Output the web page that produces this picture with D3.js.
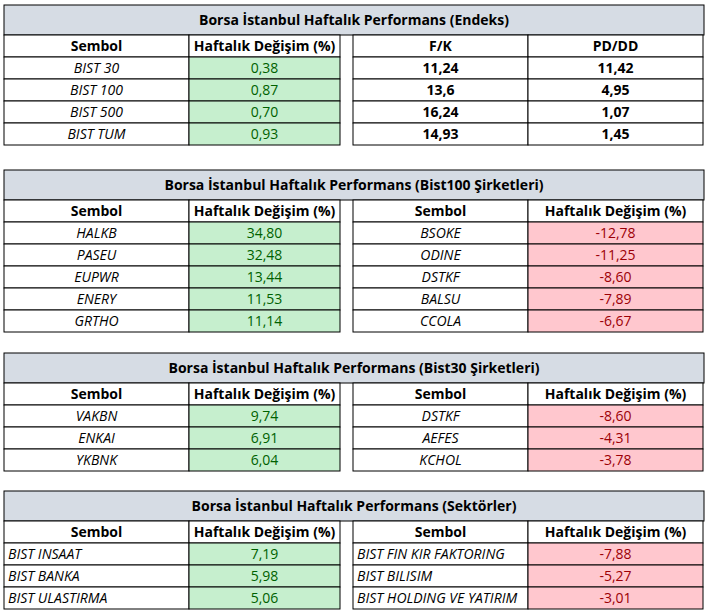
<!DOCTYPE html>
<html><head><meta charset="utf-8">
<script src="https://cdn.jsdelivr.net/npm/d3@7"></script>
<style>body{margin:0;background:#fff}text{font-family:"Open Sans",sans-serif;font-size:14px}</style>
</head><body><svg id="t"></svg>
<script>
const endeksNames = ["BIST 30", "BIST 100", "BIST 500", "BIST TUM"];
const endeksChange = ["0,38", "0,87", "0,70", "0,93"];
const endeksFK = ["11,24", "13,6", "16,24", "14,93"];
const endeksPDDD = ["11,42", "4,95", "1,07", "1,45"];

const b100Up = ["HALKB", "PASEU", "EUPWR", "ENERY", "GRTHO"];
const b100UpVal = ["34,80", "32,48", "13,44", "11,53", "11,14"];
const b100Down = ["BSOKE", "ODINE", "DSTKF", "BALSU", "CCOLA"];
const b100DownVal = ["-12,78", "-11,25", "-8,60", "-7,89", "-6,67"];

const b30Up = ["VAKBN", "ENKAI", "YKBNK"];
const b30UpVal = ["9,74", "6,91", "6,04"];
const b30Down = ["DSTKF", "AEFES", "KCHOL"];
const b30DownVal = ["-8,60", "-4,31", "-3,78"];

const sekUp = ["BIST INSAAT", "BIST BANKA", "BIST ULASTIRMA"];
const sekUpVal = ["7,19", "5,98", "5,06"];
const sekDown = ["BIST FIN KIR FAKTORING", "BIST BILISIM", "BIST HOLDING VE YATIRIM"];
const sekDownVal = ["-7,88", "-5,27", "-3,01"];

const width = 708, height = 613;
const svg = d3.select("#t").attr("width", width).attr("height", height);

const GREEN = {fill: "#c6efce", color: "#006100"};
const RED = {fill: "#ffc7ce", color: "#9c0006"};
const PLAIN = {fill: "#fff", color: "#000"};

const colX = [4, 189, 340, 353, 528, 703];

// draw one table block
function table(top, title, left, right) {
  const n = left.rows.length;
  const rowH = 22, titleH = 30;
  const y = d3.scaleBand().domain(d3.range(n + 1)).range([top + titleH, top + titleH + rowH * (n + 1)]);
  const g = svg.append("g");
  g.append("rect").attr("x", 4).attr("y", top).attr("width", 700).attr("height", titleH)
    .attr("fill", "#d6dce4").attr("stroke", "#000");
  g.append("text").attr("x", 354).attr("y", top + titleH / 2 + 5).attr("text-anchor", "middle")
    .attr("font-weight", "bold").text(title);

  [[left, colX[0], colX[1], colX[2]], [right, colX[3], colX[4], colX[5]]].forEach(([b, x0, x1, x2]) => {
    const cells = [];
    cells.push({y: 0, x0, x1, t: b.head[0], bold: true, s: PLAIN, a: "middle"});
    cells.push({y: 0, x0: x1, x1: x2, t: b.head[1], bold: true, s: PLAIN, a: "middle"});
    b.rows.forEach((r, i) => {
      cells.push({y: i + 1, x0, x1, t: r, italic: b.italic, bold: b.boldA, s: PLAIN, a: b.align || "middle"});
      cells.push({y: i + 1, x0: x1, x1: x2, t: b.vals[i], bold: b.boldB, s: b.style, a: "middle"});
    });
    const c = g.selectAll(null).data(cells).enter().append("g");
    c.append("rect").attr("x", d => d.x0).attr("y", d => y(d.y)).attr("width", d => d.x1 - d.x0)
      .attr("height", y.bandwidth()).attr("fill", d => d.s.fill).attr("stroke", "#000").attr("stroke-width", 1);
    c.append("text")
      .attr("x", d => d.a === "start" ? d.x0 + 4 : (d.x0 + d.x1) / 2)
      .attr("y", d => y(d.y) + y.bandwidth() / 2 + 5)
      .attr("text-anchor", d => d.a)
      .attr("fill", d => d.s.color)
      .attr("font-weight", d => d.bold ? "bold" : "normal")
      .attr("font-style", d => d.italic ? "italic" : "normal")
      .text(d => d.t);
  });
}

const head = ["Sembol", "Haftalık Değişim (%)"];
table(5, "Borsa İstanbul Haftalık Performans (Endeks)",
  {head, rows: endeksNames, vals: endeksChange, style: GREEN, italic: true},
  {head: ["F/K", "PD/DD"], rows: endeksFK, vals: endeksPDDD, style: PLAIN, boldA: true, boldB: true});
table(170, "Borsa İstanbul Haftalık Performans (Bist100 Şirketleri)",
  {head, rows: b100Up, vals: b100UpVal, style: GREEN, italic: true},
  {head, rows: b100Down, vals: b100DownVal, style: RED, italic: true});
table(353, "Borsa İstanbul Haftalık Performans (Bist30 Şirketleri)",
  {head, rows: b30Up, vals: b30UpVal, style: GREEN, italic: true},
  {head, rows: b30Down, vals: b30DownVal, style: RED, italic: true});
table(491, "Borsa İstanbul Haftalık Performans (Sektörler)",
  {head, rows: sekUp, vals: sekUpVal, style: GREEN, italic: true, align: "start"},
  {head, rows: sekDown, vals: sekDownVal, style: RED, italic: true, align: "start"});
</script></body></html>
